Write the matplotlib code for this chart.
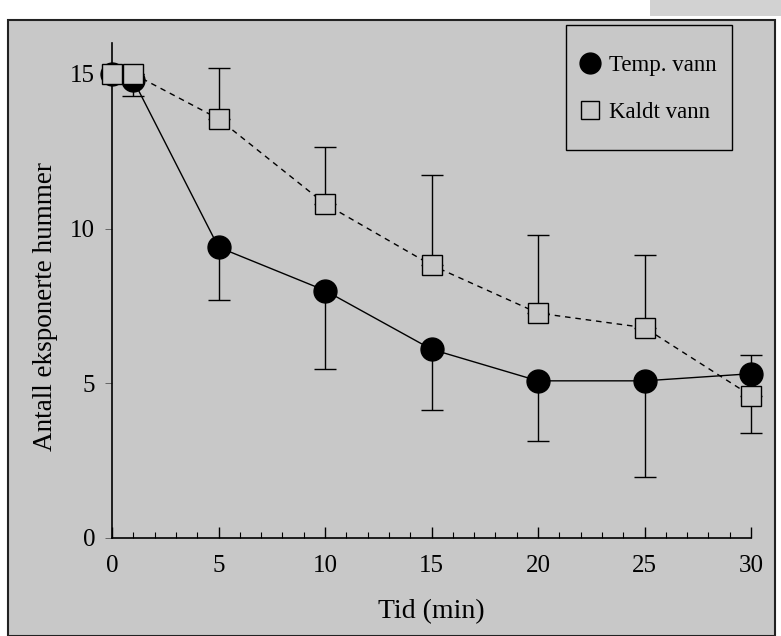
import matplotlib
matplotlib.use("Agg")
import matplotlib.pyplot as plt
from matplotlib.patches import Rectangle
from matplotlib.lines import Line2D

# Data
time = [0, 1, 5, 10, 15, 20, 25, 30]
temp_vann = [15.0, 14.8, 9.4, 8.0, 6.1, 5.08, 5.08, 5.31]
temp_err_low = [0, 0.5, 1.7, 2.55, 1.95, 1.93, 3.12, 0]
temp_err_high = [0, 0, 0, 0, 0, 0, 0, 0.6]
kaldt_vann = [15.0, 15.0, 13.55, 10.8, 8.82, 7.27, 6.8, 4.6]
kaldt_err_low = [0, 0, 0, 0, 0, 0, 0, 1.22]
kaldt_err_high = [0, 0, 1.65, 1.85, 2.9, 2.53, 2.34, 0]
xticks = [0, 5, 10, 15, 20, 25, 30]
yticks = [0, 5, 10, 15]

W, H = 781, 636
fig = plt.figure(figsize=(W / 100, H / 100), dpi=100)
fig.patch.set_facecolor("white")
bg = "#c8c8c8"

# scanned page frame
fig.patches.append(Rectangle((8 / W, 0), (775 - 8) / W, (H - 20) / H,
                             transform=fig.transFigure, facecolor=bg,
                             edgecolor="#222222", linewidth=1.5, zorder=-10))
fig.patches.append(Rectangle((650 / W, (H - 16) / H), (W - 650) / W, 16 / H,
                             transform=fig.transFigure, facecolor="#d2d2d2",
                             edgecolor="none", zorder=-11))

ax = fig.add_axes([112 / W, 1 - 538 / H, (751 - 112) / W, (538 - 43) / H])
ax.set_facecolor("none")

# legend frame
ax.add_patch(Rectangle((566 / W, 1 - 150 / H), (732 - 566) / W, 125 / H,
                       transform=fig.transFigure, facecolor=bg,
                       edgecolor="black", linewidth=1.0, zorder=5, clip_on=False))

serif = ["Liberation Serif", "DejaVu Serif"]

c1 = ax.errorbar(time, temp_vann, yerr=[temp_err_low, temp_err_high], fmt="-",
                 color="black", lw=1.0, marker="o", markersize=16.5,
                 markerfacecolor="black", markeredgecolor="black",
                 ecolor="black", elinewidth=1.0, capsize=8, capthick=1.0, zorder=3)
c2 = ax.errorbar(time, kaldt_vann, yerr=[kaldt_err_low, kaldt_err_high], fmt="--",
                 color="black", lw=1.0, dashes=(4, 3.5), marker="s", markersize=14,
                 markerfacecolor=bg, markeredgecolor="black", markeredgewidth=1.0,
                 ecolor="black", elinewidth=1.0, capsize=8, capthick=1.0, zorder=4)
for cont in (c1, c2):
    for art in cont.get_children():
        art.set_clip_on(False)

ax.set_xlim(0, 30)
ax.set_ylim(0, 16)
ax.set_xticks(xticks)
ax.set_xticks(range(0, 31), minor=True)
ax.set_yticks(yticks)
for s in ["top", "right"]:
    ax.spines[s].set_visible(False)
for s in ["left", "bottom"]:
    ax.spines[s].set_linewidth(1.2)
ax.tick_params(axis="x", which="major", direction="in", length=8, width=1, pad=12)
ax.tick_params(axis="x", which="minor", direction="in", length=4, width=0.8)
ax.tick_params(axis="y", which="major", direction="out", length=5, width=0.6,
               pad=7, colors="#555555", labelcolor="black")
for lab in ax.get_xticklabels() + ax.get_yticklabels():
    lab.set_fontfamily(serif)
    lab.set_fontsize(18)

ax.set_xlabel("Tid (min)", family=serif, fontsize=20, labelpad=16)
ax.set_ylabel("Antall eksponerte hummer", family=serif, fontsize=19.5)
ax.yaxis.set_label_coords((58 - 112) / (751 - 112), (538 - 307) / 495)

handles = [Line2D([], [], ls="none", marker="o", markersize=15, color="black"),
           Line2D([], [], ls="none", marker="s", markersize=13,
                  markerfacecolor=bg, markeredgecolor="black", markeredgewidth=1.0)]
leg = ax.legend(handles, ["Temp. vann", "Kaldt vann"], loc="center",
                bbox_to_anchor=(647 / W, 1 - 89 / H), bbox_transform=fig.transFigure,
                prop={"family": serif, "size": 16.5}, frameon=False,
                borderpad=0, labelspacing=1.15, handletextpad=0.3,
                handlelength=1.1, borderaxespad=0)
leg.set_zorder(6)

fig.savefig("out.png", dpi=100, facecolor=fig.get_facecolor())
